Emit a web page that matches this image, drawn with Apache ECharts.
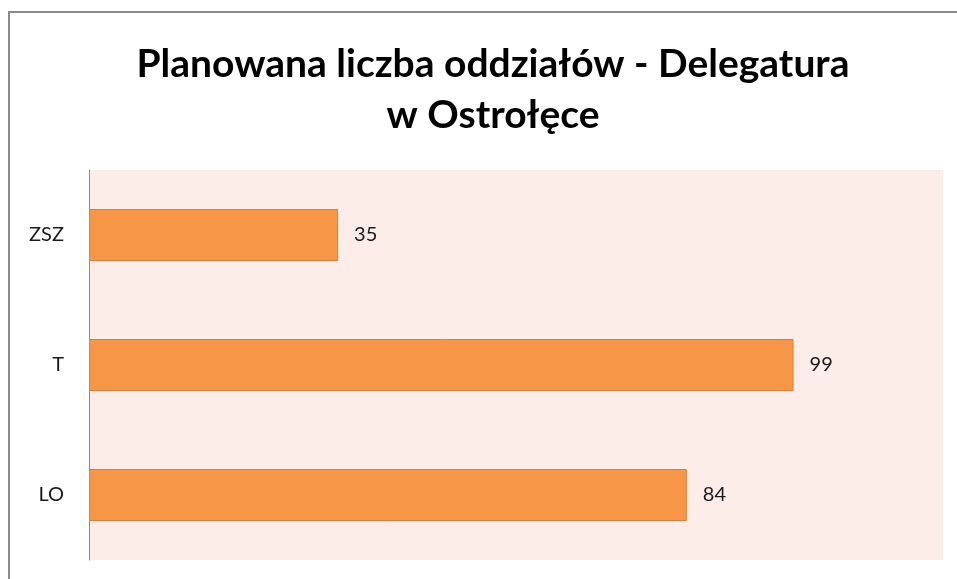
<!DOCTYPE html>
<html>
<head>
<meta charset="utf-8">
<script src="https://cdn.jsdelivr.net/npm/echarts@6/dist/echarts.min.js"></script>
<style>
    html, body {margin:0; padding:0; background:#fff; overflow:hidden;}
    #main {width:957px; height:579px;}
</style>
</head>
<body>
<div id="main"></div>
<script>
// dane z wykresu
var categories = ['ZSZ', 'T', 'LO'];
var values = [35, 99, 84];
var axisMax = 120;

var myChart = echarts.init(document.getElementById('main'));
var option = {
    animation: false,
    backgroundColor: '#fff',
    textStyle: {fontFamily: 'Lato, "Open Sans", sans-serif'},
    graphic: [{
        type: 'rect',
        shape: {x: 9, y: 12, width: 1200, height: 1200},
        style: {fill: 'none', stroke: '#8a8a8a', lineWidth: 2},
        silent: true
    }],
    title: {
        text: 'Planowana liczba oddziałów - Delegatura\nw Ostrołęce',
        left: 488,
        textAlign: 'center',
        top: 34,
        textStyle: {
            fontFamily: 'Lato, "Open Sans", sans-serif',
            fontSize: 39,
            fontWeight: 'bold',
            color: '#000',
            lineHeight: 51
        }
    },
    grid: {
        left: 89,
        right: 14,
        top: 170,
        bottom: 19,
        show: true,
        backgroundColor: '#fcede9',
        borderWidth: 0
    },
    xAxis: {
        type: 'value',
        min: 0,
        max: axisMax,
        show: false
    },
    yAxis: {
        type: 'category',
        data: categories,
        inverse: true,
        axisLine: {show: true, lineStyle: {color: '#8a8a8a', width: 1}},
        axisTick: {show: false},
        axisLabel: {
            margin: 25,
            fontSize: 20,
            color: '#1a1a1a',
            fontFamily: 'Lato, "Open Sans", sans-serif'
        }
    },
    series: [{
        type: 'bar',
        data: values,
        barWidth: '40%',
        itemStyle: {
            color: '#f79646',
            borderColor: '#d9803f',
            borderWidth: 1
        },
        label: {
            show: true,
            position: 'right',
            distance: 16,
            fontSize: 20,
            color: '#1a1a1a',
            fontFamily: 'Lato, "Open Sans", sans-serif'
        }
    }]
};
myChart.setOption(option);
</script>
</body>
</html>
